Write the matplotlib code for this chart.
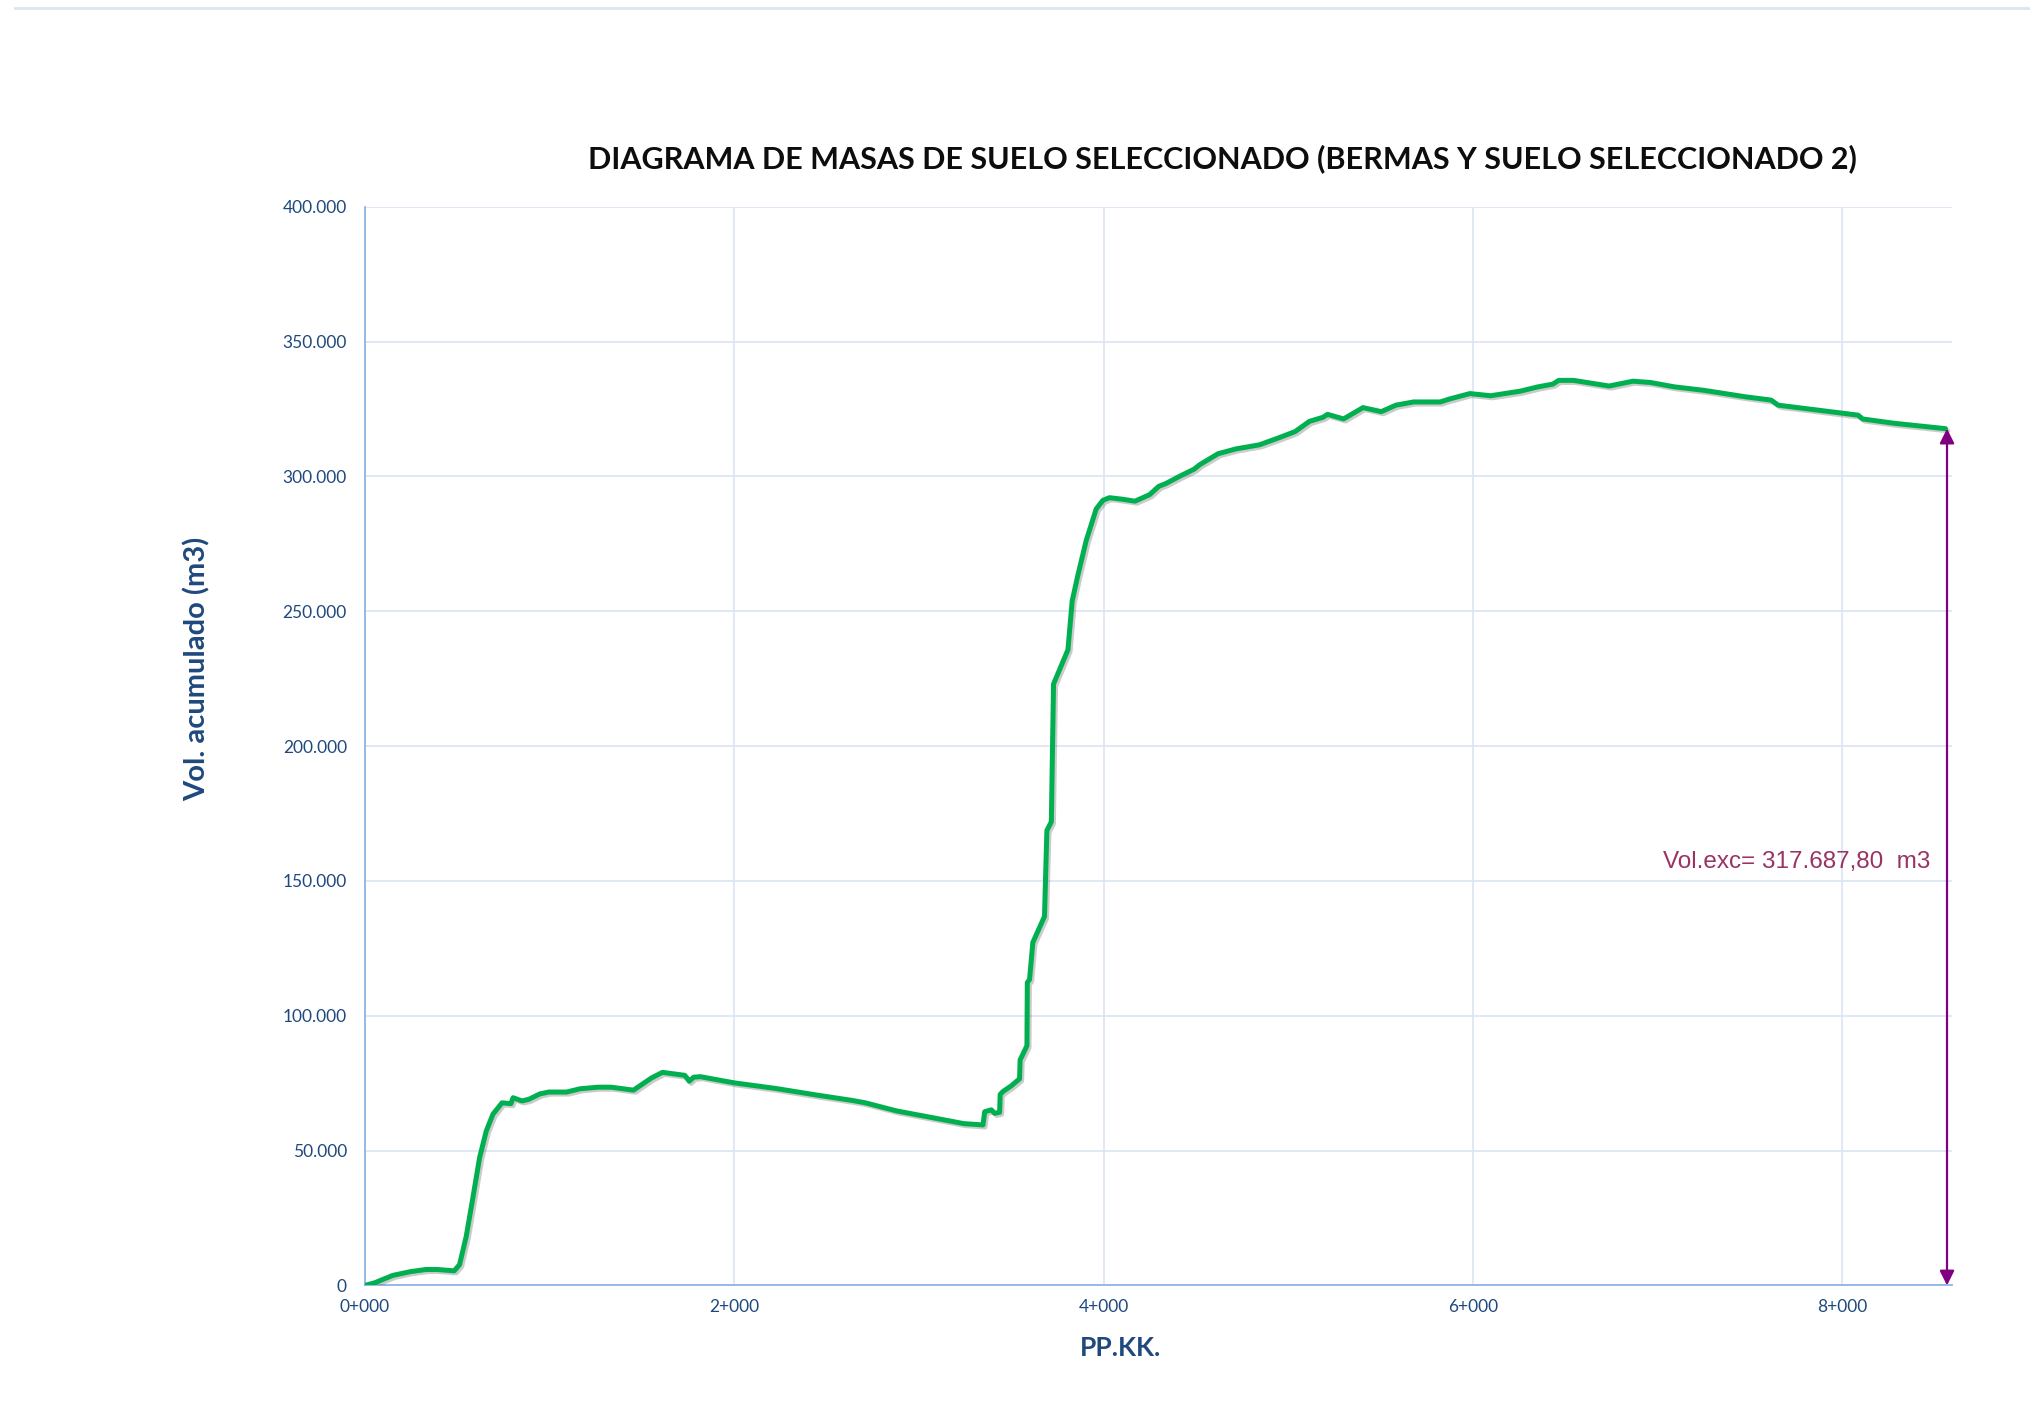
import matplotlib
matplotlib.use("Agg")
import matplotlib.pyplot as plt
import matplotlib.patheffects as pe
from matplotlib.ticker import FuncFormatter, MultipleLocator
from matplotlib.lines import Line2D

# ---- data ----
pk = [0, 53, 150, 246, 331, 391, 483, 512, 548, 585, 621, 657, 693, 742, 790, 802, 850, 887,
      947, 995, 1092, 1164, 1261, 1333, 1454, 1551, 1611, 1732, 1756, 1780, 1816, 2000, 2227,
      2445, 2638, 2710, 2879, 3073, 3242, 3347, 3356, 3392, 3410, 3437, 3440, 3455, 3500, 3545,
      3548, 3585, 3587, 3599, 3617, 3680, 3693, 3717, 3729, 3807, 3830, 3861, 3906, 3960, 3996,
      4032, 4105, 4170, 4249, 4299, 4339, 4411, 4491, 4520, 4620, 4718, 4844, 4941, 5037, 5115,
      5188, 5213, 5300, 5405, 5504, 5583, 5679, 5823, 5874, 5984, 6096, 6257, 6353, 6433, 6465,
      6545, 6738, 6867, 6963, 7091, 7252, 7477, 7615, 7654, 8087, 8110, 8280, 8560]
vol = [0, 980, 3700, 5100, 5900, 5900, 5400, 7700, 18100, 32800, 47500, 57300, 63500, 67700,
       67400, 69600, 68400, 69000, 71000, 71700, 71700, 72900, 73500, 73500, 72400, 76900, 79000,
       77900, 75700, 77200, 77400, 75100, 73000, 70600, 68600, 67700, 64700, 62200, 60000, 59500,
       64400, 65100, 63800, 64200, 70800, 71900, 74000, 76600, 83600, 88900, 112300, 113400,
       127200, 136800, 168700, 171900, 223000, 235700, 253800, 263400, 276200, 287900, 291100,
       292100, 291500, 290800, 293200, 296300, 297400, 300000, 302700, 304300, 308400, 310200,
       311700, 314100, 316600, 320400, 321900, 323000, 321300, 325500, 324000, 326400, 327600,
       327600, 328700, 330700, 329900, 331600, 333200, 334200, 335600, 335600, 333500, 335300,
       334800, 333200, 331900, 329500, 328300, 326400, 322700, 321300, 319700, 317688]

vol_exc = 317687.80
x_ticks = [0, 2000, 4000, 6000, 8000]
title = "DIAGRAMA DE MASAS DE SUELO SELECCIONADO (BERMAS Y SUELO SELECCIONADO 2)"
xlabel = "PP.KK."
ylabel = "Vol. acumulado (m3)"
annot = "Vol.exc= 317.687,80  m3"

# ---- figure ----
W, H = 2030, 1423
fig = plt.figure(figsize=(W / 100, H / 100), dpi=100)
ax = fig.add_axes([365 / W, 1 - 1285.4 / H, (1952 - 365) / W, (1285.4 - 206.7) / H])

tick_col = "#1F497D"
grid_col = "#D9E4F2"
spine_col = "#8EB4E3"

ax.plot(pk, vol, color="#00B050", lw=3.6, solid_joinstyle="round", solid_capstyle="round",
        path_effects=[pe.SimpleLineShadow(offset=(1.5, -1.5), shadow_color="#555555", alpha=0.3),
                      pe.Normal()], zorder=3)

ax.set_xlim(0, 8595)
ax.set_ylim(0, 400000)
ax.set_xticks(x_ticks)
ax.yaxis.set_major_locator(MultipleLocator(50000))
ax.grid(True, color=grid_col, lw=1.2, zorder=0)
ax.set_axisbelow(True)
for s in ["top", "right"]:
    ax.spines[s].set_visible(False)
for s in ["left", "bottom"]:
    ax.spines[s].set_color(spine_col)
    ax.spines[s].set_linewidth(1.3)

def yfmt(v, p):
    return "0" if v == 0 else f"{int(v):,}".replace(",", ".")

def xfmt(v, p):
    v = int(round(v))
    return f"{v // 1000}+{v % 1000:03d}"

ax.yaxis.set_major_formatter(FuncFormatter(yfmt))
ax.xaxis.set_major_formatter(FuncFormatter(xfmt))
ax.tick_params(axis="both", length=0, colors=tick_col, labelsize=12.5)
ax.tick_params(axis="y", pad=13)
ax.tick_params(axis="x", pad=10)
for lab in ax.get_xticklabels() + ax.get_yticklabels():
    lab.set_family("Lato")

# arrow
ax.annotate("", xy=(8568, vol_exc), xytext=(8568, 0),
            arrowprops=dict(arrowstyle="<|-|>", color="#800080", lw=1.6,
                            mutation_scale=22, shrinkA=0, shrinkB=0), zorder=4)
ax.text(8476, 157000, annot, ha="right", va="center", color="#993366",
        fontsize=17.5, family="Liberation Sans")

# titles and labels
fig.text(1222 / W, 1 - 159 / H, title, ha="center", va="center", fontsize=22,
         fontweight="bold", family="Lato", color="#0D0D0D")
fig.text(197 / W, 1 - 669 / H, ylabel, ha="center", va="center", rotation=90,
         fontsize=21, fontweight="bold", family="Lato", color=tick_col)
fig.text(1121 / W, 1 - 1348 / H, xlabel, ha="center", va="center",
         fontsize=19, fontweight="bold", family="Lato", color=tick_col)

# top decorative line
fig.add_artist(Line2D([15 / W, 1], [1 - 8 / H, 1 - 8 / H], transform=fig.transFigure,
                      color="#DAE5F1", lw=2))

fig.savefig("out.png", dpi=100, facecolor="white")
